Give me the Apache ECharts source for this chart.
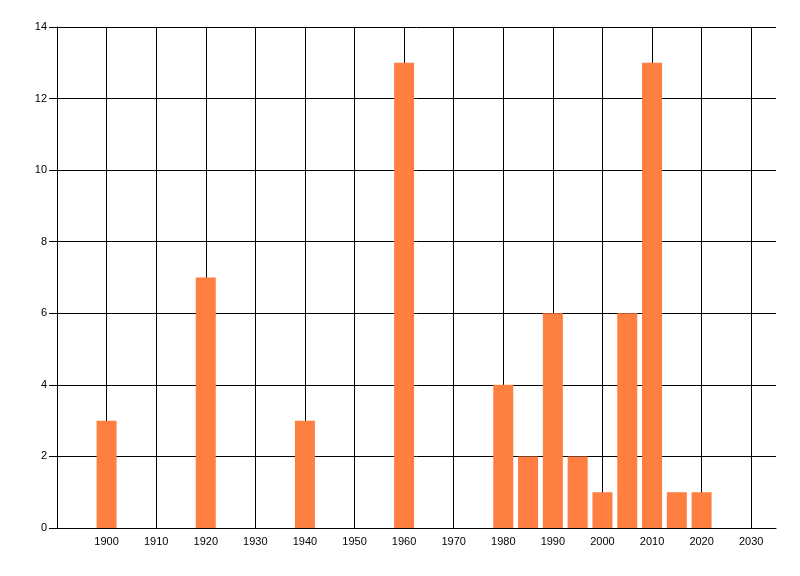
<!DOCTYPE html>
<html>
<head>
<meta charset="utf-8">
<script src="https://cdn.jsdelivr.net/npm/echarts@6/dist/echarts.min.js"></script>
<style>html,body{margin:0;padding:0;background:#fff}#c{width:800px;height:576px}</style>
</head>
<body>
<div id="c"></div>
<script>
const years = [1900, 1920, 1940, 1960, 1980, 1985, 1990, 1995, 2000, 2005, 2010, 2015, 2020];
const counts = [3, 7, 3, 13, 4, 2, 6, 2, 1, 6, 13, 1, 1];
const xMin = 1890, xMax = 2035, xStep = 10;
const yMin = 0, yMax = 14, yStep = 2;

const chart = echarts.init(document.getElementById('c'));
const font = 'Liberation Sans, Arial, sans-serif';
chart.setOption({
  animation: false,
  backgroundColor: '#fff',
  grid: { left: 57, right: 24, top: 27, bottom: 48, containLabel: false },
  xAxis: {
    type: 'value', min: xMin, max: xMax, interval: xStep,
    axisLine: { show: true, lineStyle: { color: '#000', width: 1 } },
    axisTick: { show: false },
    splitLine: { show: true, showMinLine: false, showMaxLine: false, lineStyle: { color: '#000', width: 1 } },
    axisLabel: {
      color: '#000', fontFamily: font, fontSize: 11, margin: 8,
      formatter: v => (v % 10 === 0 && v > xMin) ? String(v) : ''
    }
  },
  yAxis: {
    type: 'value', min: yMin, max: yMax, interval: yStep,
    axisLine: { show: true, lineStyle: { color: '#000', width: 1 } },
    axisTick: { show: true, length: 8, lineStyle: { color: '#000' } },
    splitLine: { show: true, lineStyle: { color: '#000', width: 1 } },
    axisLabel: { color: '#000', fontFamily: font, fontSize: 11, margin: 10 }
  },
  series: [{
    type: 'bar',
    barWidth: 20,
    itemStyle: { color: '#ff7f40' },
    data: years.map((y, i) => [y, counts[i]])
  }]
});
</script>
</body>
</html>
